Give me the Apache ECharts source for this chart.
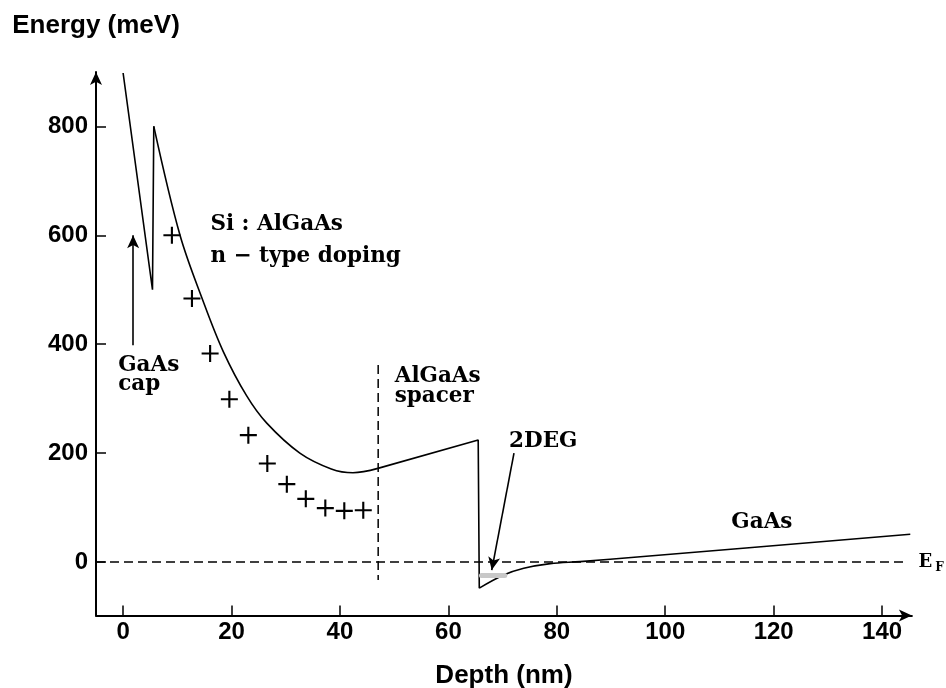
<!DOCTYPE html>
<html>
<head>
<meta charset="utf-8">
<script src="https://cdn.jsdelivr.net/npm/echarts@6/dist/echarts.min.js"></script>
<style>
  html, body { margin: 0; padding: 0; background: #fff; }
  #chart { width: 946px; height: 688px; }
</style>
</head>
<body>
<div id="chart"></div>
<script>
// Conduction-band profile of a modulation-doped GaAs/AlGaAs heterostructure.

// Axis ticks
const depthTicks = [0, 20, 40, 60, 80, 100, 120, 140];
const energyTicks = [0, 200, 400, 600, 800];

// Band edge (depth in nm, energy in meV), split into straight and curved parts
const capDepth = [0, 5.42, 5.66];
const capEnergy = [898, 500, 800];

const dopedDepth = [5.66, 10.5, 14.8, 18.5, 22.8, 26.5, 32.6, 38.4, 42.4, 47.0];
const dopedEnergy = [800, 600, 478, 386, 305, 255, 200, 171, 164, 172];

const spacerDepth = [47.0, 65.5, 65.7];
const spacerEnergy = [172, 224, -48];

const channelDepth = [65.7, 70.2, 73.9, 78.8, 84.3, 95.4, 145.2];
const channelEnergy = [-48, -24, -11.6, -3.0, 0.8, 9.7, 50.9];

// Crosses: band edge with doping model
const crossDepth = [9.0, 12.7, 16.05, 19.6, 23.1, 26.6, 30.2, 33.7, 37.3, 40.8, 44.3];
const crossEnergy = [600, 484, 383, 299, 233, 181, 143, 116, 99, 94, 95];

// Fermi level and spacer boundary
const fermiDepth = [-5, 144.6];
const fermiEnergy = [0, 0];
const boundaryDepth = [47.05, 47.05];
const boundaryEnergy = [362, -33];

// Pointer arrows [fromDepth, fromEnergy, toDepth, toEnergy]
const capArrow = [1.85, 398, 1.85, 600];
const gasArrow = [72.1, 200, 68.0, -14.7];
// 2DEG occupied states [fromDepth, toDepth, energy]
const gasLevel = [66.1, 70.4, -24];

// Annotation text anchored at (depth, energy), left aligned
const noteText = ['Si : AlGaAs', 'n \u2212 type doping', 'GaAs', 'cap', 'AlGaAs', 'spacer', '2DEG', 'GaAs'];
const noteDepth = [16.1, 16.1, -0.9, -0.9, 50.1, 50.1, 71.2, 112.2];
const noteEnergy = [620, 562, 361, 326, 341, 305, 221, 72];

// Fermi level symbol E with subscript F
const fermiSymbol = ['E', 'F'];
const fermiSymbolDepth = [146.7, 149.8];
const fermiSymbolEnergy = [0, -10];

const zip = (xs, ys) => xs.map((x, i) => [x, ys[i]]);

const sansBold = { fontFamily: 'Liberation Sans', fontWeight: 'bold', color: '#000' };
const serifBold = { fontFamily: 'DejaVu Serif', fontWeight: 'bold', color: '#000' };

const bandLine = { color: '#000', width: 1.6 };
const solidItem = { opacity: 1 };

const chart = echarts.init(document.getElementById('chart'), null, { renderer: 'canvas' });

chart.setOption({
  animation: false,
  backgroundColor: '#fff',
  grid: { left: 96, right: 34.1, top: 71.9, bottom: 72.6, containLabel: false, outerBoundsMode: 'none' },
  xAxis: {
    type: 'value', min: -5, max: 145.5,
    name: 'Depth (nm)', nameLocation: 'middle', nameGap: 47,
    nameTextStyle: Object.assign({ fontSize: 26 }, sansBold),
    axisLine: {
      show: true, onZero: false,
      symbol: ['none', 'arrow'], symbolSize: [9, 13], symbolOffset: [0, 0],
      lineStyle: { color: '#000', width: 2 }
    },
    axisTick: { show: true, inside: true, length: 10, customValues: depthTicks, lineStyle: { color: '#000', width: 1.5 } },
    axisLabel: Object.assign({ customValues: depthTicks, fontSize: 24, margin: 5 }, sansBold),
    splitLine: { show: false }
  },
  yAxis: {
    type: 'value', min: -98, max: 900,
    name: 'Energy (meV)', nameLocation: 'end', nameGap: 33,
    nameTextStyle: Object.assign({ fontSize: 26, align: 'center' }, sansBold),
    axisLine: {
      show: true, onZero: false,
      symbol: ['none', 'arrow'], symbolSize: [9, 13], symbolOffset: [0, 0],
      lineStyle: { color: '#000', width: 2 }
    },
    axisTick: { show: true, inside: true, length: 10, customValues: energyTicks, lineStyle: { color: '#000', width: 1.5 } },
    axisLabel: Object.assign({ customValues: energyTicks, fontSize: 24, margin: 8 }, sansBold),
    splitLine: { show: false }
  },
  series: [
    { type: 'line', data: zip(capDepth, capEnergy), showSymbol: false, symbol: 'none', lineStyle: bandLine, clip: false, silent: true },
    { type: 'line', data: zip(dopedDepth, dopedEnergy), showSymbol: false, symbol: 'none', smooth: 0.35, lineStyle: bandLine, clip: false, silent: true },
    { type: 'line', data: zip(spacerDepth, spacerEnergy), showSymbol: false, symbol: 'none', lineStyle: bandLine, clip: false, silent: true },
    { type: 'line', data: zip(channelDepth, channelEnergy), showSymbol: false, symbol: 'none', smooth: 0.35, lineStyle: bandLine, clip: false, silent: true },
    {
      type: 'line', data: zip(fermiDepth, fermiEnergy), showSymbol: false, symbol: 'none', clip: false, silent: true,
      lineStyle: { color: '#000', width: 1.5, type: [9, 5] }
    },
    {
      type: 'line', data: zip(boundaryDepth, boundaryEnergy), showSymbol: false, symbol: 'none', clip: false, silent: true,
      lineStyle: { color: '#000', width: 1.5, type: [9, 5] }
    },
    {
      type: 'scatter', data: zip(crossDepth, crossEnergy), silent: true, clip: false,
      symbol: 'path://M7,0h2v7h7v2h-7v7h-2v-7h-7v-2h7z', symbolSize: 17,
      itemStyle: { color: '#000', opacity: 1 }
    },
    {
      type: 'line', data: [], silent: true,
      markLine: {
        silent: true, animation: false,
        symbol: ['none', 'arrow'], symbolSize: [9, 13],
        label: { show: false },
        lineStyle: { color: '#000', width: 1.6, type: 'solid' },
        data: [
          [{ coord: [capArrow[0], capArrow[1]] }, { coord: [capArrow[2], capArrow[3]] }],
          [{ coord: [gasArrow[0], gasArrow[1]] }, { coord: [gasArrow[2], gasArrow[3]] }]
        ]
      }
    },
    {
      type: 'line', data: [], silent: true,
      markLine: {
        silent: true, animation: false,
        symbol: ['none', 'none'],
        label: { show: false },
        lineStyle: { color: '#c8c8c8', width: 5, type: 'solid', cap: 'round' },
        data: [[{ coord: [gasLevel[0], gasLevel[2]] }, { coord: [gasLevel[1], gasLevel[2]] }]]
      }
    },
    {
      type: 'scatter', silent: true, clip: false, symbolSize: 0,
      itemStyle: solidItem,
      data: noteText.map((t, i) => ({ value: [noteDepth[i], noteEnergy[i]], name: t })),
      label: Object.assign({
        show: true, position: 'inside', align: 'left', verticalAlign: 'middle', fontSize: 21.5,
        formatter: p => p.name
      }, serifBold)
    },
    {
      type: 'scatter', silent: true, clip: false, symbolSize: 0,
      itemStyle: solidItem,
      data: fermiSymbol.map((t, i) => ({
        value: [fermiSymbolDepth[i], fermiSymbolEnergy[i]], name: t,
        label: { fontSize: i === 0 ? 18 : 12 }
      })),
      label: Object.assign({
        show: true, position: 'inside', align: 'left', verticalAlign: 'middle',
        formatter: p => p.name
      }, serifBold)
    }
  ]
});
</script>
</body>
</html>
